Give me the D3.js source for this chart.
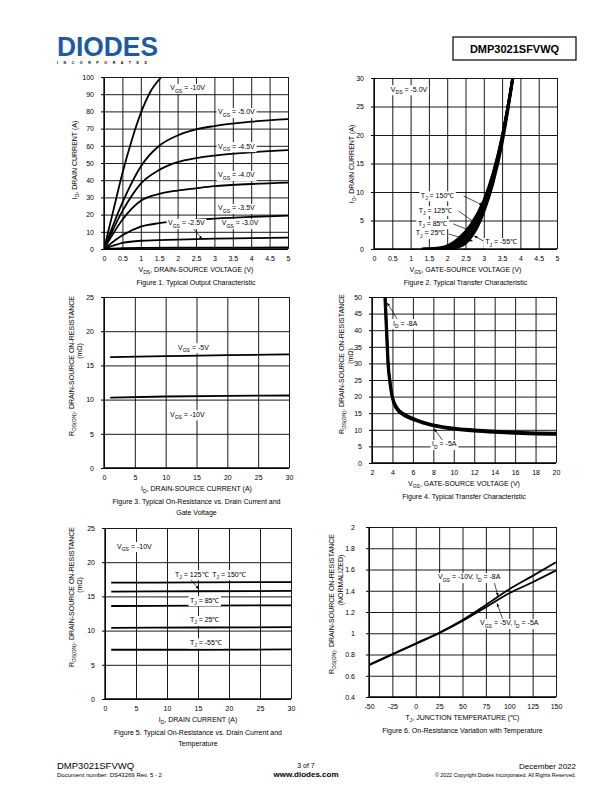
<!DOCTYPE html>
<html><head><meta charset="utf-8">
<script src="https://cdn.jsdelivr.net/npm/d3@7"></script>
<style>body{margin:0;background:#fff} svg{display:block} text{font-family:"Liberation Sans",Arial,sans-serif;fill:#000}</style>
</head><body><svg id="c" width="612" height="792"></svg>
<script>
// ---------- DATA ----------
// Figure 1: ID vs VDS for several VGS
const f1Ticks_x = [0,0.5,1,1.5,2,2.5,3,3.5,4,4.5,5];
const f1Ticks_y = [0,10,20,30,40,50,60,70,80,90,100];
const f1_vgs10 = [[0,0],[0.25,22],[0.5,44],[0.75,63],[1,79],[1.25,91],[1.56,100]];
const f1_vgs50 = [[0,0],[0.5,27],[1,48],[1.5,60],[2,66],[2.5,69.5],[3,71.5],[4,74],[5,75.5]];
const f1_vgs45 = [[0,0],[0.5,22],[1,38],[1.5,46],[2,50.5],[2.5,52.8],[3,54.3],[4,56.2],[5,57.5]];
const f1_vgs40 = [[0,0],[0.5,17],[1,28],[1.5,32],[2,34],[2.5,35.3],[3,36.5],[4,37.8],[5,38.6]];
const f1_vgs35 = [[0,0],[0.5,8],[1,13],[1.5,15],[2,16.2],[2.5,17],[3,17.7],[4,18.7],[5,19.4]];
const f1_vgs30 = [[0,0],[0.5,3.5],[1,4.8],[2,5.5],[3,6],[4,6.3],[5,6.6]];
const f1_vgs25 = [[0,0],[0.5,0.5],[1,0.7],[3,0.8],[5,0.9]];

// Figure 2: ID vs VGS at several TJ
const f2Ticks_x = [0,0.5,1,1.5,2,2.5,3,3.5,4,4.5,5];
const f2Ticks_y = [0,5,10,15,20,25,30];
const f2_tm55 = [[1.8,0],[2.2,0.2],[2.5,1.0],[2.75,3],[3,6.5],[3.25,11.5],[3.5,18.5],[3.7,26],[3.82,31]];
const f2_t25  = [[1.6,0],[2.1,0.2],[2.45,1.2],[2.75,3.6],[3,7.3],[3.25,12.3],[3.5,19.2],[3.7,26.3],[3.8,30.5]];
const f2_t85  = [[1.45,0],[2.0,0.25],[2.4,1.5],[2.7,3.9],[3,7.8],[3.25,12.7],[3.5,19.5],[3.7,26.5],[3.8,30.5]];
const f2_t125 = [[1.35,0],[1.9,0.25],[2.35,1.7],[2.7,4.3],[3,8.2],[3.25,13],[3.5,19.6],[3.7,26.5],[3.8,30.3]];
const f2_t150 = [[1.3,0],[1.8,0.2],[2.3,1.8],[2.65,4.3],[3,8.5],[3.25,13.2],[3.5,19.7],[3.7,26.5],[3.8,30.2]];

// Figure 3: RDS(on) vs ID for two VGS
const f3Ticks_x = [0,5,10,15,20,25,30];
const f3Ticks_y = [0,5,10,15,20,25];
const f3_vgs5  = [[1,16.2],[10,16.35],[20,16.5],[30,16.6]];
const f3_vgs10 = [[1,10.3],[10,10.45],[20,10.55],[30,10.6]];

// Figure 4: RDS(on) vs VGS
const f4Ticks_x = [2,4,6,8,10,12,14,16,18,20];
const f4Ticks_y = [0,5,10,15,20,25,30,35,40,45,50];
const f4_id8 = [[3.3,50],[3.45,40],[3.6,30],[3.8,24],[4,20],[4.5,16.5],[5,15],[6,13.5],[7,12.3],[8,11.5],[10,10.5],[12,10],[14,9.6],[16,9.3],[18,9.1],[20,9.0]];
const f4_id5 = [[3.25,50],[3.4,40],[3.55,30],[3.75,24],[3.95,20],[4.4,16.3],[5,14.6],[6,13.1],[7,12],[8,11.2],[10,10.2],[12,9.6],[14,9.2],[16,8.9],[18,8.7],[20,8.6]];

// Figure 5: RDS(on) vs ID at several TJ
const f5Ticks_x = [0,5,10,15,20,25,30];
const f5Ticks_y = [0,5,10,15,20,25];
const f5_t150 = [[1,17.0],[15,17.05],[30,17.1]];
const f5_t125 = [[1,15.7],[15,15.75],[30,15.8]];
const f5_t85  = [[1,13.6],[15,13.65],[30,13.7]];
const f5_t25  = [[1,10.4],[15,10.45],[30,10.5]];
const f5_tm55 = [[1,7.2],[15,7.2],[30,7.25]];

// Figure 6: normalized RDS(on) vs TJ
const f6Ticks_x = [-50,-25,0,25,50,75,100,125,150];
const f6Ticks_y = [0.4,0.6,0.8,1,1.2,1.4,1.6,1.8,2];
const f6_a = [[-50,0.705],[-25,0.803],[0,0.904],[25,1.005],[50,1.124],[75,1.266],[100,1.414],[125,1.54],[150,1.669]];
const f6_b = [[-50,0.70],[-25,0.80],[0,0.90],[25,1.0],[50,1.115],[75,1.245],[100,1.376],[125,1.48],[150,1.59]];

// ---------- DRAWING ----------
const svg = d3.select('#c');
const FS = 7;
svg.append('defs').append('marker').attr('id','ah').attr('viewBox','0 0 10 10')
  .attr('refX',9).attr('refY',5).attr('markerWidth',5).attr('markerHeight',5).attr('orient','auto')
  .append('path').attr('d','M0,1 L10,5 L0,9 z').attr('fill','#000');

function rich(t, parts, size){
  let prevSub=false;
  parts.forEach(p=>{
    const isSub = Array.isArray(p);
    const txt = isSub ? p[0] : p;
    const ts = t.append('tspan').text(txt);
    if(isSub){ ts.attr('font-size', size*0.72).attr('dy', size*0.3); prevSub=true; }
    else if(prevSub){ ts.attr('dy', -size*0.3); prevSub=false; }
  });
  return t;
}
function label(g, px, py, parts, opts={}){
  const t = g.append('text').attr('x',px).attr('y',py).attr('font-size',opts.size||FS)
    .attr('text-anchor',opts.anchor||'start');
  rich(t, parts, opts.size||FS);
  if(opts.bg!==false){
    const b = t.node().getBBox();
    g.insert('rect', () => t.node()).attr('x',b.x-1.5).attr('y',b.y-0.5).attr('width',b.width+3).attr('height',b.height+1).attr('fill','#fff');
  }
  return t;
}

function chart(c){
  const g = svg.append('g');
  const x = d3.scaleLinear().domain(c.xd).range([c.l,c.r]);
  const y = d3.scaleLinear().domain(c.yd).range([c.b,c.t]);
  const id = 'clip'+Math.round(c.l)+Math.round(c.t);
  svg.select('defs').append('clipPath').attr('id',id).append('rect')
    .attr('x',c.l).attr('y',c.t).attr('width',c.r-c.l).attr('height',c.b-c.t);
  // grid
  g.append('g').attr('transform',`translate(0,${c.b})`)
    .call(d3.axisBottom(x).tickValues(c.xt).tickSize(-(c.b-c.t)).tickFormat(''))
    .call(s=>s.select('.domain').remove())
    .selectAll('line').attr('stroke','#000').attr('stroke-width',0.9);
  g.append('g').attr('transform',`translate(${c.l},0)`)
    .call(d3.axisLeft(y).tickValues(c.yt).tickSize(-(c.r-c.l)).tickFormat(''))
    .call(s=>s.select('.domain').remove())
    .selectAll('line').attr('stroke','#000').attr('stroke-width',0.9);
  // tick labels
  const ay = g.append('g').attr('transform',`translate(${c.l},0)`)
    .call(d3.axisLeft(y).tickValues(c.yt).tickSize(3).tickPadding(c.yp||7).tickFormat(d=>String(+d.toFixed(2))));
  ay.select('.domain').remove();
  ay.selectAll('line').attr('stroke','#000');
  ay.selectAll('text').attr('font-size',FS).attr('font-family','Liberation Sans, Arial');
  const ax = g.append('g').attr('transform',`translate(0,${c.b})`)
    .call(d3.axisBottom(x).tickValues(c.xt).tickSize(0).tickPadding(7).tickFormat(d=>String(+d.toFixed(2))));
  ax.select('.domain').remove();
  ax.selectAll('text').attr('font-size',FS).attr('font-family','Liberation Sans, Arial');
  // frame axes
  g.append('line').attr('x1',c.l).attr('x2',c.l).attr('y1',c.t).attr('y2',c.b).attr('stroke','#000').attr('stroke-width',1.3);
  g.append('line').attr('x1',c.l).attr('x2',c.r).attr('y1',c.b).attr('y2',c.b).attr('stroke','#000').attr('stroke-width',1.3);
  // series
  const line = d3.line().x(d=>x(d[0])).y(d=>y(d[1])).curve(d3.curveMonotoneX);
  const sg = g.append('g').attr('clip-path',`url(#${id})`);
  c.series.forEach(s=>{
    sg.append('path').attr('d',line(s)).attr('fill','none').attr('stroke','#000')
      .attr('stroke-width',c.sw||1.8).attr('stroke-linejoin','round');
  });
  // arrows
  (c.arrows||[]).forEach(a=>{
    g.append('line').attr('x1',x(a[0])).attr('y1',y(a[1])).attr('x2',x(a[2])).attr('y2',y(a[3]))
      .attr('stroke','#000').attr('stroke-width',0.7).attr('marker-end','url(#ah)');
  });
  // labels
  (c.labels||[]).forEach(L=> label(g, x(L[0]), y(L[1]), L[2]));
  // axis titles
  const cx = (c.l+c.r)/2;
  label(g, cx, c.b+23, c.xtitle, {anchor:'middle', bg:false});
  c.caption.forEach((cap,i)=> label(g, cx, c.b+36+i*11, [cap], {anchor:'middle', bg:false}));
  c.ytitle.forEach((yt,i)=>{
    const gg = g.append('g').attr('transform',`translate(${c.yx[i]},${c.yc[i]}) rotate(-90)`);
    label(gg, 0, 0, yt, {anchor:'middle', bg:false});
  });
}

const vgs = v => ['V',['GS'],' = '+v];
const tj = v => ['T',['J'],' = '+v];
const rdsTitle = ['R',['DS(ON)'],', DRAIN-SOURCE ON-RESISTANCE'];

chart({l:104,r:288,t:77,b:249,xd:[0,5],yd:[0,100],xt:f1Ticks_x,yt:f1Ticks_y,
  series:[f1_vgs10,f1_vgs50,f1_vgs45,f1_vgs40,f1_vgs35,f1_vgs30,f1_vgs25],
  labels:[[1.8,92.2,vgs('-10V')],[3.1,78.2,vgs('-5.0V')],[3.1,58.4,vgs('-4.5V')],[3.1,41.6,vgs('-4.0V')],
          [3.1,22.4,vgs('-3.5V')],[1.74,13.7,vgs('-2.5V')],[3.2,13.7,vgs('-3.0V')]],
  arrows:[[2.42,12.0,2.66,6.0]],
  xtitle:['V',['DS'],', DRAIN-SOURCE VOLTAGE (V)'], caption:['Figure 1. Typical Output Characteristic'],
  ytitle:[['I',['D'],', DRAIN CURRENT (A)']], yx:[77], yc:[160]});

chart({l:374,r:557,t:78,b:249,xd:[0,5],yd:[0,30],xt:f2Ticks_x,yt:f2Ticks_y,sw:2.8,
  series:[f2_tm55,f2_t25,f2_t85,f2_t125,f2_t150],
  labels:[[0.46,27.6,['V',['DS'],' = -5.0V']],[1.28,9.0,tj('150℃')],[1.22,6.4,tj('125℃')],[1.2,4.1,tj('85℃')],
          [1.14,2.37,tj('25℃')],[3.04,0.79,tj('-55℃')]],
  arrows:[[2.45,9.3,2.96,7.7],[2.31,6.67,2.77,4.56],[2.17,4.39,2.72,2.98],[2.04,2.63,2.69,1.4],[2.99,1.4,2.74,2.3]],
  xtitle:['V',['GS'],', GATE-SOURCE VOLTAGE (V)'], caption:['Figure 2. Typical Transfer Characteristic'],
  ytitle:[['I',['D'],', DRAIN CURRENT (A)']], yx:[354], yc:[164]});

chart({l:104,r:289,t:297,b:468,xd:[0,30],yd:[0,25],xt:f3Ticks_x,yt:f3Ticks_y,
  series:[f3_vgs5,f3_vgs10],
  labels:[[12,17.3,vgs('-5V')],[10.7,7.5,vgs('-10V')]],
  xtitle:['I',['D'],', DRAIN-SOURCE CURRENT (A)'], caption:['Figure 3. Typical On-Resistance vs. Drain Current and','Gate Voltage'],
  ytitle:[rdsTitle,['(mΩ)']], yx:[73.5,82], yc:[366,351]});

chart({l:372,r:556,t:297,b:463,xd:[2,20],yd:[0,50],xt:f4Ticks_x,yt:f4Ticks_y,sw:2.8,
  series:[f4_id8,f4_id5],
  labels:[[4.05,41.4,['I',['D'],' = -8A']],[7.87,4.97,['I',['D'],' = -5A']]],
  arrows:[[4.45,43.4,3.5,48.2],[8.95,6.6,8.1,10.3]],
  xtitle:['V',['GS'],', GATE-SOURCE VOLTAGE (V)'], caption:['Figure 4. Typical Transfer Characteristic'],
  ytitle:[rdsTitle,['(mΩ)']], yx:[343.5,352.5], yc:[364,356]});

chart({l:105,r:291,t:528,b:699,xd:[0,30],yd:[0,25],xt:f5Ticks_x,yt:f5Ticks_y,
  series:[f5_t150,f5_t125,f5_t85,f5_t25,f5_tm55],
  labels:[[1.94,22.0,vgs('-10V')],[11.3,17.9,tj('125℃')],[17.3,17.9,tj('150℃')],[13.7,14.1,tj('85℃')],
          [13.7,11.2,tj('25℃')],[13.7,7.9,tj('-55℃')]],
  arrows:[[13.7,17.6,15.1,16.1]],
  xtitle:['I',['D'],', DRAIN CURRENT (A)'], caption:['Figure 5. Typical On-Resistance vs. Drain Current and','Temperature'],
  ytitle:[rdsTitle,['(mΩ)']], yx:[73.5,82], yc:[597,585]});

chart({l:369,r:556,t:527,b:697,xd:[-50,150],yd:[0.4,2],xt:f6Ticks_x,yt:f6Ticks_y,yp:11,
  series:[f6_a,f6_b],
  labels:[[23.8,1.506,['V',['GS'],' = -10V, I',['D'],' = -8A']],[68.7,1.073,['V',['GS'],' = -5V, I',['D'],' = -5A']]],
  arrows:[[83.7,1.487,88,1.35],[93.3,1.125,87,1.28]],
  xtitle:['T',['J'],', JUNCTION TEMPERATURE (℃)'], caption:['Figure 6. On-Resistance Variation with Temperature'],
  ytitle:[rdsTitle,['(NORMALIZED)']], yx:[334,343], yc:[604,580]});

// ---------- HEADER / FOOTER ----------
const hd = svg.append('g');
hd.append('text').attr('x',57).attr('y',56).attr('font-size',27).attr('font-weight','bold')
  .attr('textLength',101).attr('lengthAdjust','spacingAndGlyphs').style('fill','#1d5aa6').text('DIODES');
hd.append('text').attr('x',57).attr('y',64).attr('font-size',3.6).attr('textLength',90).attr('font-weight','bold')
  .attr('lengthAdjust','spacing').text('INCORPORATED');
hd.append('rect').attr('x',453).attr('y',37).attr('width',123).attr('height',23).attr('fill','none').attr('stroke','#000').attr('stroke-width',1.2);
hd.append('text').attr('x',514.5).attr('y',53).attr('text-anchor','middle').attr('font-size',11).attr('font-weight','bold').text('DMP3021SFVWQ');

const ft = svg.append('g');
ft.append('text').attr('x',57).attr('y',769).attr('font-size',9.5).text('DMP3021SFVWQ');
ft.append('text').attr('x',57).attr('y',776.5).attr('font-size',6).text('Document number: DS43269  Rev. 5 - 2');
ft.append('text').attr('x',306).attr('y',767.5).attr('text-anchor','middle').attr('font-size',7).text('3 of 7');
ft.append('text').attr('x',306).attr('y',776.5).attr('text-anchor','middle').attr('font-size',8).attr('font-weight','bold').text('www.diodes.com');
ft.append('text').attr('x',576).attr('y',769).attr('text-anchor','end').attr('font-size',8).text('December 2022');
ft.append('text').attr('x',576).attr('y',776.5).attr('text-anchor','end').attr('font-size',5.3).text('© 2022 Copyright Diodes Incorporated. All Rights Reserved.');
</script></body></html>
